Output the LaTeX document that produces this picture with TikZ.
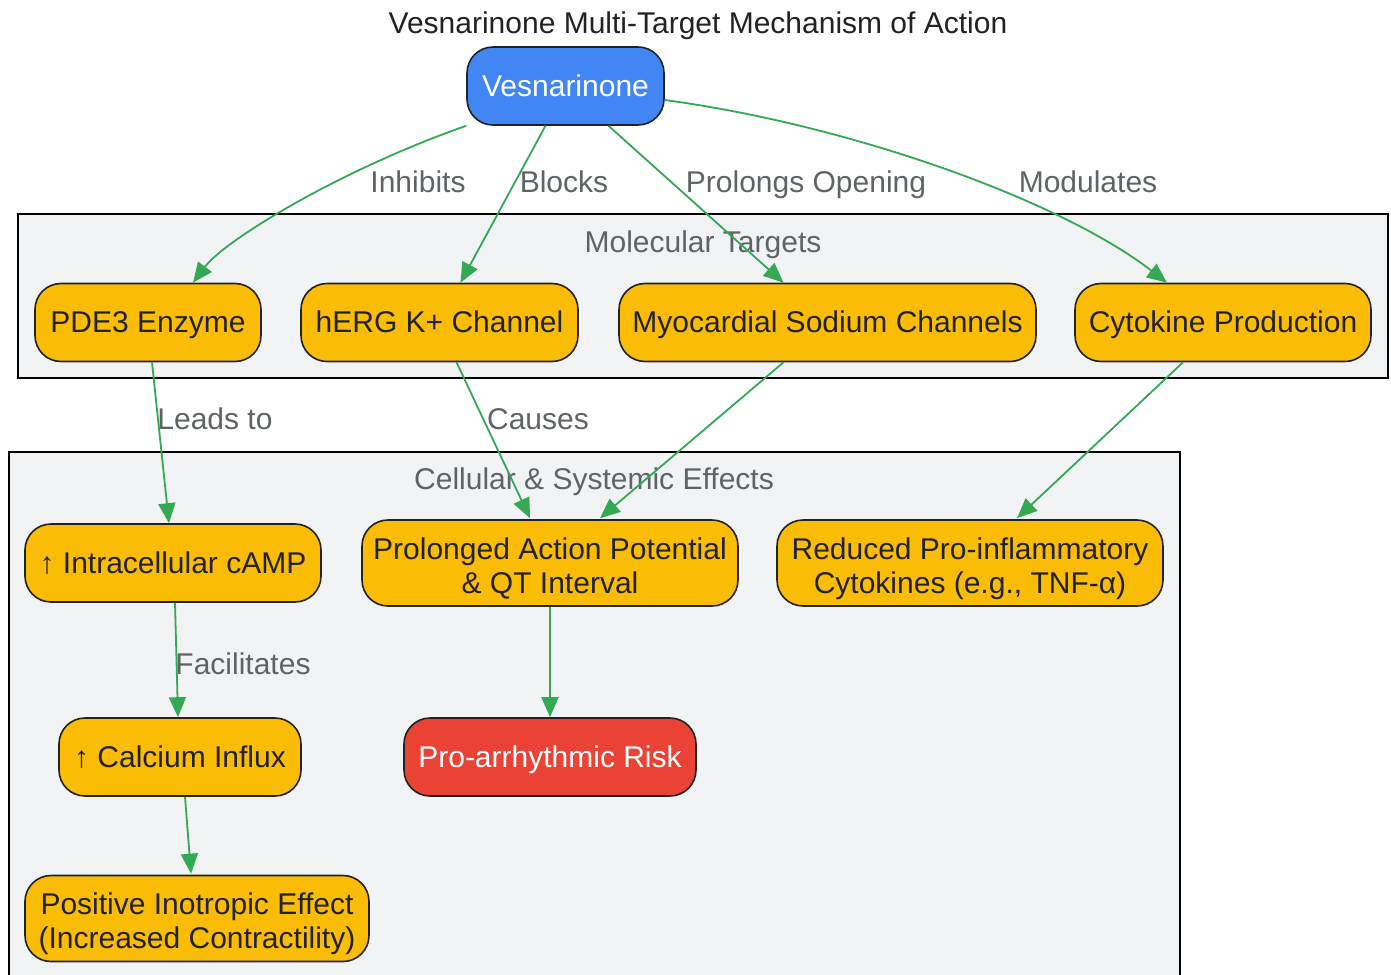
\documentclass[tikz,border=0pt]{standalone}
\usepackage{fontspec}
\setmainfont{Liberation Sans}
\usetikzlibrary{arrows.meta,calc}
\definecolor{gblue}{HTML}{4285F4}
\definecolor{gyellow}{HTML}{FABC05}
\definecolor{gred}{HTML}{EA4335}
\definecolor{ggreen}{HTML}{34A853}
\definecolor{clfill}{HTML}{F1F3F5}
\definecolor{nborder}{HTML}{222222}
\definecolor{tdark}{HTML}{222222}
\definecolor{lgray}{HTML}{5F6368}
\tikzset{
  txt/.style={font=\fontsize{30}{34}\selectfont, text height=27pt, text depth=6.4pt, inner sep=0pt},
  box/.style={draw=nborder, line width=1.6pt, rounded corners=26pt, fill=gyellow, text=tdark,
    txt, align=center, minimum height=78pt},
  twoline/.style={minimum height=86pt, text height=60.5pt, text depth=0.5pt},
  cluster/.style={draw=black, line width=1.6pt, fill=clfill, inner sep=0pt},
  cltitle/.style={text=lgray, txt},
  elabel/.style={text=lgray, txt},
  link/.style={draw=ggreen, line width=1.8pt, -{Triangle[length=20pt,width=17pt]}},
}
\begin{document}
\begin{tikzpicture}[x=1pt,y=-1pt]
\useasboundingbox[fill=white] (0,0) rectangle (1391,974);
% clusters
\node[cluster, minimum width=1370pt, minimum height=164pt] (clmol) at (703,296) {};
\node[cltitle] (clmolt) at (703,242) {Molecular Targets};
\node[cluster, minimum width=1171pt, minimum height=540pt] (clcell) at (594.5,722) {};
\node[cltitle] (clcellt) at (594,479) {Cellular \& Systemic Effects};
% title
\node[text=tdark, txt] (title) at (698,23) {Vesnarinone Multi-Target Mechanism of Action};
% nodes
\node[box, fill=gblue, text=white, minimum width=197pt] (ves) at (565.5,86) {Vesnarinone};
\node[box, minimum width=226pt] (pde) at (148,322.5) {PDE3 Enzyme};
\node[box, minimum width=277pt] (herg) at (439.5,322.5) {hERG K+ Channel};
\node[box, minimum width=417pt] (myo) at (827.5,322.5) {Myocardial Sodium Channels};
\node[box, minimum width=296pt] (cyto) at (1223,322.5) {Cytokine Production};
\node[box, minimum width=296pt] (camp) at (173,563) {↑ Intracellular cAMP};
\node[box, twoline, minimum width=376pt] (qt) at (550,563) {Prolonged Action Potential\\\& QT Interval};
\node[box, twoline, minimum width=386pt] (red) at (970,563) {Reduced Pro-inflammatory\\Cytokines (e.g., TNF-α)};
\node[box, minimum width=242pt] (ca) at (180,757) {↑ Calcium Influx};
\node[box, fill=gred, text=white, minimum width=292pt] (risk) at (550,757) {Pro-arrhythmic Risk};
\node[box, twoline, minimum width=344pt] (ino) at (197,918.5) {Positive Inotropic Effect\\(Increased Contractility)};
% edges
\draw[link] (ves.south west) .. controls (340,170) and (225,240) .. ($(pde.north)+(45,0)$);
\draw[link] ($(ves.south)+(-20,0)$) -- ($(herg.north)+(21,0)$);
\draw[link] ($(ves.south)+(43,0)$) -- ($(myo.north)+(-44,0)$);
\draw[link] ($(ves.east)+(0,14)$) .. controls (850,125) and (1060,200) .. ($(cyto.north)+(-56,0)$);
\draw[link] ($(pde.south)+(4,0)$) -- ($(camp.north)+(-4,0)$);
\draw[link] ($(herg.south)+(17,0)$) -- ($(qt.north)+(-20,-1)$);
\draw[link] ($(myo.south)+(-44,0)$) -- ($(qt.north)+(50,-1)$);
\draw[link] ($(cyto.south)+(-40,0)$) -- ($(red.north)+(47,-1)$);
\draw[link] ($(camp.south)+(2,0)$) -- ($(ca.north)+(-2,0)$);
\draw[link] ($(ca.south)+(5,0)$) -- ($(ino.north)+(-6,-1)$);
\draw[link] (qt.south) -- (risk.north);
% edge labels
\node[elabel] (l1) at (418,182) {Inhibits};
\node[elabel] (l2) at (564,182) {Blocks};
\node[elabel] (l3) at (806,182) {Prolongs Opening};
\node[elabel] (l4) at (1088,182) {Modulates};
\node[elabel] (l5) at (215,419) {Leads to};
\node[elabel] (l6) at (538,419) {Causes};
\node[elabel] (l7) at (243,664) {Facilitates};
\end{tikzpicture}
\end{document}
